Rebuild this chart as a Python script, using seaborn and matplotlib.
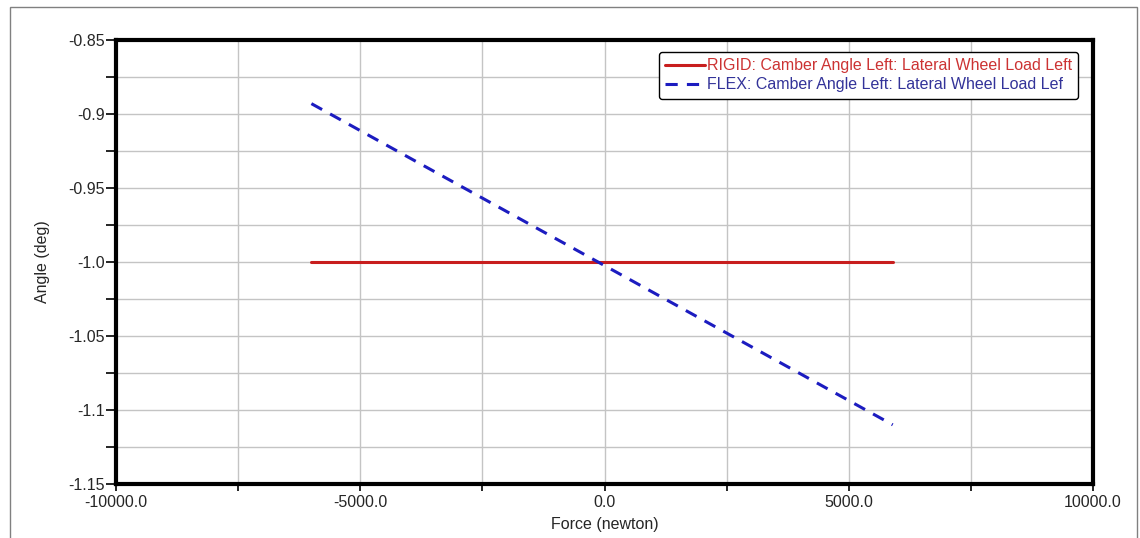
import numpy as np
import pandas as pd
import matplotlib
matplotlib.use("Agg")
import matplotlib.pyplot as plt
from matplotlib.patches import Rectangle
import seaborn as sns

# ---- data ----
rigid_force = [-6000.0, 5900.0]
rigid_angle = [-1.0, -1.0]
flex_force = [-6000.0, 5900.0]
flex_angle = [-0.893, -1.110]

x_label_pos = [-10000, -5000, 0, 5000, 10000]
x_labels = ["-10000.0", "-5000.0", "0.0", "5000.0", "10000.0"]
x_minor_pos = [-7500, -2500, 2500, 7500]
y_label_pos = [-1.15, -1.1, -1.05, -1.0, -0.95, -0.9, -0.85]
y_labels = ["-1.15", "-1.1", "-1.05", "-1.0", "-0.95", "-0.9", "-0.85"]
y_minor_pos = [-1.125, -1.075, -1.025, -0.975, -0.925, -0.875]

rigid_name = "RIGID: Camber Angle Left: Lateral Wheel Load Left"
flex_name = "FLEX: Camber Angle Left: Lateral Wheel Load Lef"

sns.set_style("white")
plt.rcParams['font.family'] = ['Liberation Sans', 'DejaVu Sans']

fig = plt.figure(figsize=(11.4, 5.38), dpi=100)
fig.patch.set_facecolor("white")
ax = fig.add_axes([116/1140, 54/538, (1093-116)/1140, (484-40)/538])

red = "#c81e1e"
blue = "#1c1cc0"
fs = 11.5

df_r = pd.DataFrame({"Force": rigid_force, "Angle": rigid_angle})
df_f = pd.DataFrame({"Force": flex_force, "Angle": flex_angle})
sns.lineplot(data=df_r, x="Force", y="Angle", ax=ax, color=red, lw=2.2,
             label=rigid_name, sort=False)
sns.lineplot(data=df_f, x="Force", y="Angle", ax=ax, color=blue, lw=2.2,
             dashes=False, label=flex_name, sort=False)
ax.lines[1].set_linestyle((0, (4, 3)))

ax.set_xlim(-10000, 10000)
ax.set_ylim(-1.15, -0.85)
ax.set_xticks(x_label_pos)
ax.set_xticklabels(x_labels)
ax.set_xticks(x_minor_pos, minor=True)
ax.set_yticks(y_label_pos)
ax.set_yticklabels(y_labels)
ax.set_yticks(y_minor_pos, minor=True)

ax.grid(which="both", color="#c4c4c4", lw=1.0)
ax.set_axisbelow(True)
for s in ax.spines.values():
    s.set_color("black")
    s.set_linewidth(3.0)

ax.tick_params(axis="y", which="both", direction="out", length=7, width=1.2,
               color="black", labelsize=fs, pad=1, left=True)
ax.tick_params(axis="x", which="both", direction="out", length=5, width=1.2,
               color="black", labelsize=fs, pad=3, bottom=True)

ax.set_xlabel("Force (newton)", fontsize=fs, labelpad=5)
ax.set_ylabel("Angle (deg)", fontsize=fs, labelpad=13)

leg = ax.legend(loc="upper right", bbox_to_anchor=(0.985, 0.973), fontsize=fs,
                frameon=True, fancybox=True, framealpha=1, edgecolor="black",
                handlelength=2.5, handletextpad=0.1, borderpad=0.4,
                labelspacing=0.25, borderaxespad=0)
leg.get_frame().set_linewidth(1.0)
for t, c in zip(leg.get_texts(), ["#cc3333", "#333399"]):
    t.set_color(c)
leg.get_lines()[1].set_linestyle((0, (4, 3)))

# outer frame
fig.add_artist(Rectangle((10/1140, -0.02), 1127/1140, 1 - 7/538 + 0.02,
                         transform=fig.transFigure, fill=False,
                         edgecolor="#808080", lw=1.0))

fig.savefig("out.png", dpi=100)
